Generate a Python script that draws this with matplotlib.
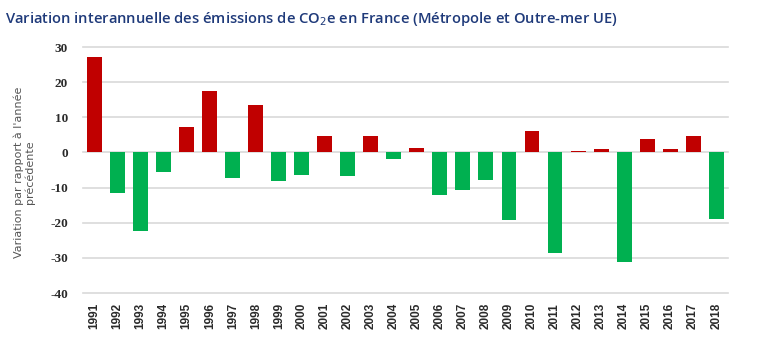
import matplotlib.pyplot as plt
import numpy as np

years = [str(y) for y in range(1991, 2019)]
variation = [27.1, -11.6, -22.4, -5.6, 7.2, 17.5, -7.3, 13.5, -8.1, -6.4,
             4.7, -6.7, 4.7, -1.8, 1.25, -12.0, -10.6, -7.8, -19.1, 6.1,
             -28.5, 0.4, 1.0, -31.1, 3.8, 1.0, 4.7, -18.9]
yticks = [-40, -30, -20, -10, 0, 10, 20, 30]

red = '#C00000'
green = '#00B050'

fig = plt.figure(figsize=(7.7, 3.46), dpi=100)
ax = fig.add_axes([0.108, 0.153, 0.837, 0.711])

x = np.arange(len(years))
colors = [red if v >= 0 else green for v in variation]
ax.bar(x, variation, width=0.65, color=colors, zorder=3)

ax.set_ylim(-40, 30)
ax.set_xlim(-0.5, len(years) - 0.5)
ax.set_yticks(yticks)
ax.set_yticklabels([str(t) for t in yticks], fontsize=9.5, fontweight='bold',
                   family='Liberation Serif', color='#2a2a2a')
ax.set_xticks(x)
ax.set_xticklabels(years, rotation=90, fontsize=8.5, fontweight='bold',
                   family='Liberation Sans', color='#2a2a2a')
ax.tick_params(axis='both', length=0)
ax.tick_params(axis='y', pad=11)
ax.tick_params(axis='x', pad=7)

for t in yticks:
    ax.axhline(t, color='#d9d9d9', lw=1.2, zorder=1, clip_on=False)

for s in ax.spines.values():
    s.set_visible(False)

ax.set_ylabel("Variation par rapport à l'année\nprécédente", fontsize=8,
              color='#555555', linespacing=1.1)
ax.yaxis.set_label_coords(-0.074, 0.49)

fig.text(0.007, 0.945, 'Variation interannuelle des émissions de CO$_2$e en France (Métropole et Outre-mer UE)',
         fontsize=10.6, fontweight='semibold', family='Open Sans', color='#1F3A7A',
         va='center', ha='left')

fig.savefig('out.png', dpi=100)
